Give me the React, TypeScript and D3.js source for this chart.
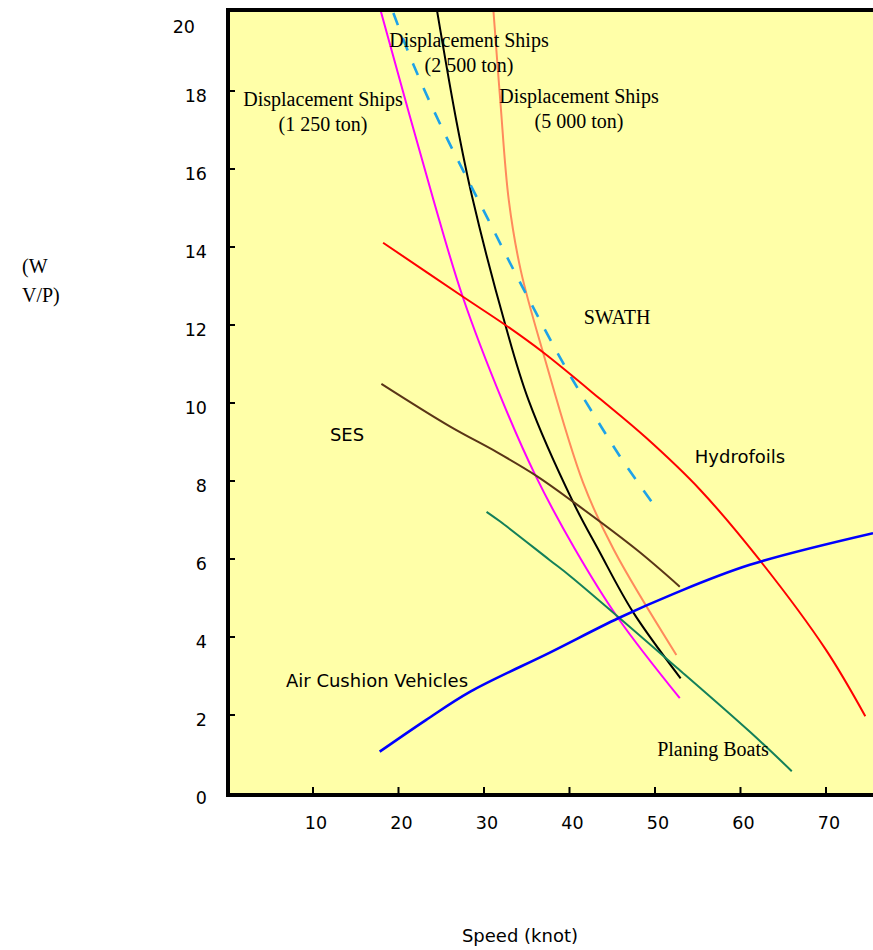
import React, { useEffect, useRef } from 'react';
import * as d3 from 'd3';

type Pt = [number, number];

// speed (knot), W·V/P
const disp1250: Pt[] = [[17.9, 20.07], [24.1, 15.2], [27.5, 12.73], [32.1, 10.08], [36.0, 8.15], [40.6, 6.27], [45.7, 4.48], [52.9, 2.43]];
const disp2500: Pt[] = [[24.5, 20.07], [26.8, 17.2], [28.6, 15.3], [32.5, 12.0], [35.2, 10.08], [40.4, 7.47], [43.4, 6.23], [47.4, 4.65], [53.0, 2.94]];
const disp5000: Pt[] = [[31.1, 20.07], [31.9, 17.77], [32.9, 15.2], [34.3, 13.4], [36.9, 11.3], [41.6, 7.95], [45.2, 6.23], [52.5, 3.54]];
const swath: Pt[] = [[19.4, 20.0], [21.7, 18.7], [25.2, 17.0], [30.5, 14.7], [34.2, 13.1], [39.7, 10.85], [43.8, 9.36], [46.3, 8.5], [49.6, 7.47]];
const hydrofoils: Pt[] = [[18.2, 14.11], [27.5, 12.73], [32.5, 12.0], [36.9, 11.3], [43.6, 10.1], [49.0, 9.1], [55.3, 7.77], [62.4, 5.93], [70.0, 3.67], [74.6, 1.97]];
const ses: Pt[] = [[18.0, 10.49], [26.0, 9.4], [31.5, 8.74], [36.0, 8.15], [40.4, 7.47], [47.9, 6.23], [52.9, 5.29]];
const planing: Pt[] = [[30.3, 7.21], [31.9, 6.96], [37.7, 5.97], [40.1, 5.56], [52.9, 3.15], [61.1, 1.57], [66.0, 0.56]];
const acv: Pt[] = [[17.8, 1.06], [23.2, 1.87], [28.4, 2.6], [37.7, 3.6], [45.7, 4.48], [52.1, 5.1], [61.1, 5.85], [75.5, 6.66]];

const xTicks = [10, 20, 30, 40, 50, 60, 70];
const yTicks = [0, 2, 4, 6, 8, 10, 12, 14, 16, 18, 20];

const series = [
    { data: disp1250, color: '#ff00ff', width: 2, dash: null },
    { data: disp2500, color: '#000000', width: 2, dash: null },
    { data: disp5000, color: '#ff8a5c', width: 2, dash: null },
    { data: swath, color: '#1ea2e8', width: 2.6, dash: '13,14' },
    { data: hydrofoils, color: '#ff0000', width: 2, dash: null },
    { data: ses, color: '#5a3517', width: 2, dash: null },
    { data: planing, color: '#14805a', width: 2, dash: null },
    { data: acv, color: '#0000ff', width: 2.6, dash: null },
];

const serifLabels = [
    { lines: ['Displacement Ships', '(1 250 ton)'], x: 323, y: 106 },
    { lines: ['Displacement Ships', '(2 500 ton)'], x: 469, y: 47 },
    { lines: ['Displacement Ships', '(5 000 ton)'], x: 579, y: 103 },
    { lines: ['SWATH'], x: 617, y: 324 },
    { lines: ['Planing Boats'], x: 713, y: 756 },
];

const sansLabels = [
    { text: 'SES', x: 347, y: 441 },
    { text: 'Hydrofoils', x: 740, y: 463 },
    { text: 'Air Cushion Vehicles', x: 377, y: 687 },
];

export default function App() {
    const svgRef = useRef<SVGSVGElement>(null);

    useEffect(() => {
        if (!svgRef.current) return;
        const svg = d3.select(svgRef.current);
        svg.selectAll('*').remove();

        const left = 227.5, right = 873, top = 13, bottom = 793;

        const x = d3.scaleLinear().domain([0, 75.5]).range([left, right]);
        const y = d3.scaleLinear().domain([0, 20]).range([bottom, top]);

        // plot background
        svg.append('rect')
            .attr('x', left).attr('y', 10)
            .attr('width', right - left).attr('height', 786)
            .attr('fill', '#ffffa8');

        svg.append('clipPath').attr('id', 'plotclip')
            .append('rect')
            .attr('x', left).attr('y', 11)
            .attr('width', right - left).attr('height', 784);

        const line = d3.line<Pt>()
            .x(d => x(d[0]))
            .y(d => y(d[1]))
            .curve(d3.curveCatmullRom.alpha(0.5));

        const g = svg.append('g').attr('clip-path', 'url(#plotclip)');
        series.forEach(s => {
            g.append('path')
                .datum(s.data)
                .attr('fill', 'none')
                .attr('stroke', s.color)
                .attr('stroke-width', s.width)
                .attr('stroke-dasharray', s.dash)
                .attr('d', line);
        });

        // frame: left, top, bottom
        svg.append('line').attr('x1', 228).attr('x2', 228).attr('y1', 8).attr('y2', 797)
            .attr('stroke', '#000').attr('stroke-width', 4);
        svg.append('line').attr('x1', 226).attr('x2', 873).attr('y1', 10).attr('y2', 10)
            .attr('stroke', '#000').attr('stroke-width', 4);
        svg.append('line').attr('x1', 226).attr('x2', 873).attr('y1', 795).attr('y2', 795)
            .attr('stroke', '#000').attr('stroke-width', 4);

        // y ticks + labels
        yTicks.forEach(v => {
            if (v > 0 && v < 20) {
                svg.append('line')
                    .attr('x1', 228).attr('x2', 235)
                    .attr('y1', y(v)).attr('y2', y(v))
                    .attr('stroke', '#000').attr('stroke-width', 2);
            }
            svg.append('text')
                .attr('x', v === 20 ? 195 : 207)
                .attr('y', y(v) + (v === 20 ? 14 : 5))
                .attr('dy', '0.35em')
                .attr('text-anchor', 'end')
                .style('font-family', 'DejaVu Sans, sans-serif')
                .style('font-size', '17.5px')
                .text(v);
        });

        // x ticks + labels
        xTicks.forEach(v => {
            svg.append('line')
                .attr('x1', x(v)).attr('x2', x(v))
                .attr('y1', 795).attr('y2', 787)
                .attr('stroke', '#000').attr('stroke-width', 2);
            svg.append('text')
                .attr('x', x(v) + 3)
                .attr('y', 829)
                .attr('text-anchor', 'middle')
                .style('font-family', 'DejaVu Sans, sans-serif')
                .style('font-size', '17.5px')
                .text(v);
        });

        // in-plot labels
        serifLabels.forEach(l => {
            l.lines.forEach((t, i) => {
                svg.append('text')
                    .attr('x', l.x)
                    .attr('y', l.y + i * 25)
                    .attr('text-anchor', 'middle')
                    .style('font-family', 'Liberation Serif, serif')
                    .style('font-size', '20px')
                    .text(t);
            });
        });
        sansLabels.forEach(l => {
            svg.append('text')
                .attr('x', l.x)
                .attr('y', l.y)
                .attr('text-anchor', 'middle')
                .style('font-family', 'DejaVu Sans, sans-serif')
                .style('font-size', '18px')
                .text(l.text);
        });

        // axis titles
        svg.append('text').attr('x', 22).attr('y', 273)
            .style('font-family', 'Liberation Serif, serif').style('font-size', '20px')
            .text('(W');
        svg.append('text').attr('x', 22).attr('y', 302)
            .style('font-family', 'Liberation Serif, serif').style('font-size', '20px')
            .text('V/P)');
        svg.append('text').attr('x', 520).attr('y', 942)
            .attr('text-anchor', 'middle')
            .style('font-family', 'DejaVu Sans, sans-serif').style('font-size', '18px')
            .text('Speed (knot)');
    }, []);

    return (
        <div style={{ position: 'absolute', left: 0, top: 0 }}>
            <svg ref={svgRef} width={873} height={950} style={{ display: 'block', background: '#fff' }} />
        </div>
    );
}
